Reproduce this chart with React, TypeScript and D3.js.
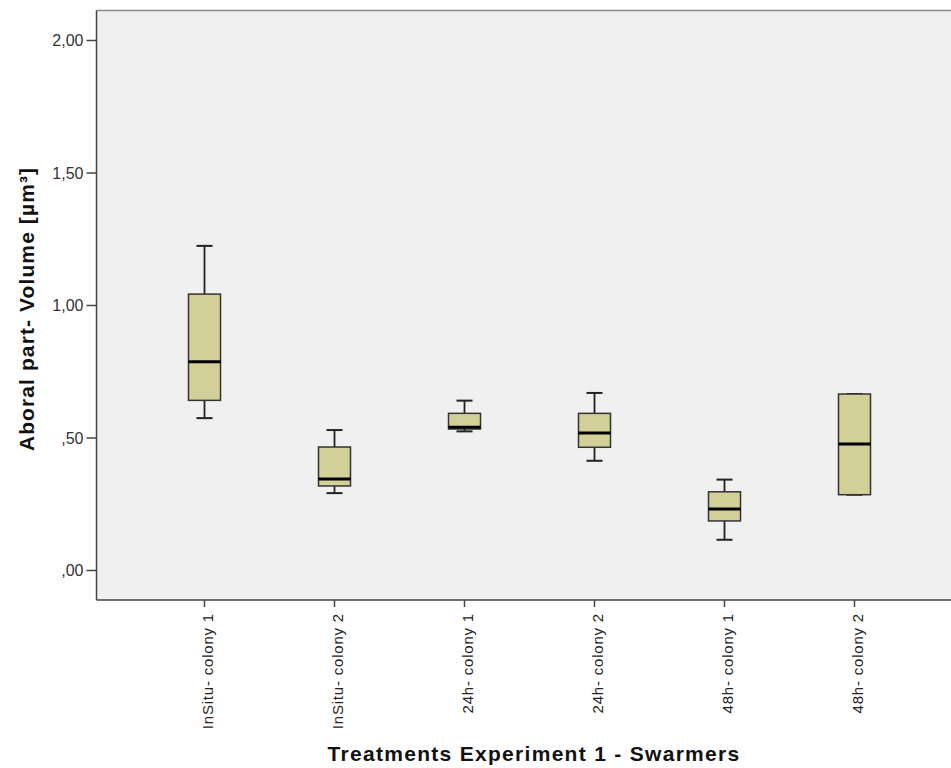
import React from "react";
import * as d3 from "d3";

const categories = [
  "InSitu- colony 1",
  "InSitu- colony 2",
  "24h- colony 1",
  "24h- colony 2",
  "48h- colony 1",
  "48h- colony 2",
];

// five-number summaries: [min, q1, median, q3, max]
const whiskerLow = [0.575, 0.292, 0.525, 0.414, 0.116, 0.286];
const quartile1 = [0.642, 0.319, 0.534, 0.465, 0.187, 0.286];
const medians = [0.788, 0.345, 0.541, 0.519, 0.232, 0.477];
const quartile3 = [1.043, 0.466, 0.593, 0.593, 0.297, 0.666];
const whiskerHigh = [1.225, 0.53, 0.641, 0.67, 0.343, 0.666];

const yTicks = [0, 0.5, 1, 1.5, 2];

const fmt = (v: number) => {
  const s = v.toFixed(2).replace(".", ",");
  return s.startsWith("0") ? s.slice(1) : s;
};

const App = () => {
  const width = 951;
  const height = 768;
  const margin = { top: 10.5, right: 0, bottom: 168, left: 96.5 };
  const plotBottom = height - margin.bottom;

  const y = d3.scaleLinear().domain([0, 2]).range([570.5, 40.5]);
  const x = d3.scalePoint<string>().domain(categories).range([204.5, 854.5]);

  const boxW = 32;
  const capW = 16;
  const font = "'Liberation Sans', Arial, sans-serif";

  return (
    <svg
      width={width}
      height={height}
      style={{ position: "absolute", left: 0, top: 0, background: "#fff" }}
      fontFamily={font}
    >
      <rect
        x={margin.left}
        y={margin.top}
        width={width - margin.left + 5}
        height={plotBottom - margin.top}
        fill="#f0f0f0"
        stroke="none"
      />
      <line x1={margin.left} x2={width} y1={margin.top} y2={margin.top} stroke="#8a8a8a" strokeWidth={1.5} />

      {categories.map((c, i) => {
        const cx = x(c)!;
        return (
          <g key={c}>
            <line x1={cx} x2={cx} y1={y(whiskerHigh[i])} y2={y(quartile3[i])} stroke="#222" strokeWidth={1.8} />
            <line x1={cx} x2={cx} y1={y(quartile1[i])} y2={y(whiskerLow[i])} stroke="#222" strokeWidth={1.8} />
            <line x1={cx - capW / 2} x2={cx + capW / 2} y1={y(whiskerHigh[i])} y2={y(whiskerHigh[i])} stroke="#222" strokeWidth={2} />
            <line x1={cx - capW / 2} x2={cx + capW / 2} y1={y(whiskerLow[i])} y2={y(whiskerLow[i])} stroke="#222" strokeWidth={2} />
            <rect
              x={cx - boxW / 2}
              y={y(quartile3[i])}
              width={boxW}
              height={y(quartile1[i]) - y(quartile3[i])}
              fill="#d3cf99"
              stroke="#333"
              strokeWidth={1.5}
            />
            <line x1={cx - boxW / 2} x2={cx + boxW / 2} y1={y(medians[i])} y2={y(medians[i])} stroke="#000" strokeWidth={3} />
          </g>
        );
      })}

      {/* y axis */}
      <line x1={margin.left} x2={margin.left} y1={margin.top} y2={plotBottom} stroke="#444" strokeWidth={1.5} />
      {yTicks.map((t) => (
        <g key={t}>
          <line x1={margin.left - 10} x2={margin.left} y1={y(t)} y2={y(t)} stroke="#444" strokeWidth={1.5} />
          <text x={margin.left - 13} y={y(t)} dy="0.35em" textAnchor="end" fontSize={16} fill="#333">
            {fmt(t)}
          </text>
        </g>
      ))}

      {/* x axis */}
      <line x1={margin.left} x2={width} y1={plotBottom} y2={plotBottom} stroke="#444" strokeWidth={1.5} />
      {categories.map((c) => {
        const cx = x(c)!;
        return (
          <g key={c}>
            <line x1={cx} x2={cx} y1={plotBottom} y2={plotBottom + 7} stroke="#444" strokeWidth={1.5} />
            <text
              transform={`translate(${cx + 8},${plotBottom + 13}) rotate(-90)`}
              textAnchor="end"
              fontSize={15}
              letterSpacing={0.8}
              fill="#222"
            >
              {c}
            </text>
          </g>
        );
      })}

      <text
        transform={`translate(34,309) rotate(-90)`}
        textAnchor="middle"
        fontSize={21}
        letterSpacing={1.1}
        fontWeight="bold"
        fill="#111"
      >
        Aboral part- Volume [µm³]
      </text>
      <text x={534} y={761} textAnchor="middle" fontSize={21} letterSpacing={1.3} fontWeight="bold" fill="#111">
        Treatments Experiment 1 - Swarmers
      </text>
    </svg>
  );
};

export default App;
